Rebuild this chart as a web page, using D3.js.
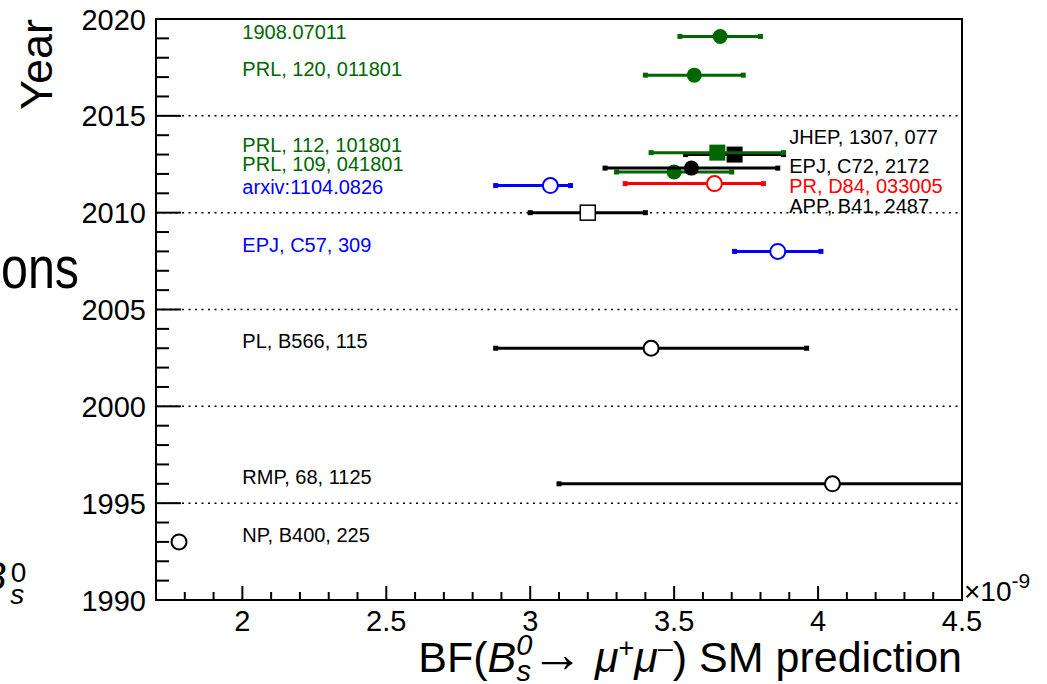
<!DOCTYPE html>
<html>
<head>
<meta charset="utf-8">
<script src="https://cdn.jsdelivr.net/npm/d3@7"></script>
<style>
  html, body { margin: 0; padding: 0; background: #fff; }
  svg { display: block; }
  text { font-family: "Liberation Sans", Arial, Helvetica, sans-serif; }
</style>
</head>
<body>
<svg id="chart" width="1047" height="684"></svg>
<script>
// ---------------- DATA ----------------
const references = ["1908.07011", "PRL, 120, 011801", "PRL, 112, 101801", "JHEP, 1307, 077",
  "EPJ, C72, 2172", "PRL, 109, 041801", "PR, D84, 033005", "arxiv:1104.0826",
  "APP, B41, 2487", "EPJ, C57, 309", "PL, B566, 115", "RMP, 68, 1125", "NP, B400, 225"];
const years    = [2019.1, 2017.1, 2013.1, 2013.0, 2012.3, 2012.1, 2011.5, 2011.4, 2010.0, 2008.0, 2003.0, 1996.0, 1993.0];
const values   = [3.66, 3.57, 3.65, 3.71, 3.56, 3.50, 3.64, 3.07, 3.20, 3.86, 3.42, 4.05, 1.78];
const errLow   = [0.14, 0.17, 0.23, 0.17, 0.30, 0.20, 0.31, 0.19, 0.20, 0.15, 0.54, 0.95, 0];
const errHigh  = [0.14, 0.17, 0.23, 0.17, 0.30, 0.20, 0.17, 0.07, 0.20, 0.15, 0.54, 0.95, 0];
// label anchors (in data coordinates: BF value, year of baseline)
const labelTexts = ["1908.07011", "PRL, 120, 011801", "PRL, 112, 101801", "PRL, 109, 041801",
  "arxiv:1104.0826", "EPJ, C57, 309", "PL, B566, 115", "RMP, 68, 1125", "NP, B400, 225",
  "JHEP, 1307, 077", "EPJ, C72, 2172", "PR, D84, 033005", "APP, B41, 2487"];
const labelValues = [2.0, 2.0, 2.0, 2.0, 2.0, 2.0, 2.0, 2.0, 2.0, 3.9, 3.9, 3.9, 3.9];
const labelYears  = [2018.97, 2017.06, 2013.13, 2012.15, 2010.96, 2007.97, 2003.01, 1995.99, 1992.99,
  2013.55, 2012.03, 2011.03, 2010.0];
const xTicks = [2, 2.5, 3, 3.5, 4, 4.5];
const yTicks = [1990, 1995, 2000, 2005, 2010, 2015, 2020];
const xDomain = [1.7, 4.5];
const yDomain = [1990, 2020];

// ---------------- STYLE ----------------
const GREEN = "#006600", BLUE = "#0000ff", RED = "#ff0000", BLACK = "#000000";
const pointColor = [GREEN, GREEN, GREEN, BLACK, BLACK, GREEN, RED, BLUE, BLACK, BLUE, BLACK, BLACK, BLACK];
const pointShape = ["circle", "circle", "square", "square", "circle", "circle", "circle", "circle", "square", "circle", "circle", "circle", "circle"];
const pointFilled = [true, true, true, true, true, true, false, false, false, false, false, false, false];
const labelColor = [GREEN, GREEN, GREEN, GREEN, BLUE, BLUE, BLACK, BLACK, BLACK, BLACK, BLACK, RED, BLACK];
// drawing order (black square under green square, green circle under black circle)
const drawOrder = [0, 1, 3, 2, 5, 4, 6, 7, 8, 9, 10, 11, 12];

const svg = d3.select("#chart");
const L = 156, R = 962, T = 19, B = 600;
const x = d3.scaleLinear().domain(xDomain).range([L, R]);
const y = d3.scaleLinear().domain(yDomain).range([B, T]);

svg.append("defs").append("clipPath").attr("id", "clip")
  .append("rect").attr("x", L).attr("y", T).attr("width", R - L).attr("height", B - T);

// gridlines (dotted) at major y ticks
svg.append("g").selectAll("line").data(yTicks.filter(d => d > 1990 && d < 2020)).join("line")
  .attr("x1", L).attr("x2", R).attr("y1", d => y(d)).attr("y2", d => y(d))
  .attr("stroke", "#000").attr("stroke-width", 1.5).attr("stroke-dasharray", "2,4.5");

// y axis ticks (inward) and labels
const gy = svg.append("g");
gy.selectAll("line").data(d3.range(1990, 2021, 1)).join("line")
  .attr("x1", L).attr("x2", d => L + (d % 5 === 0 ? 25 : 13))
  .attr("y1", d => y(d)).attr("y2", d => y(d)).attr("stroke", "#000").attr("stroke-width", 2);
gy.selectAll("text").data(yTicks).join("text")
  .attr("x", L - 10).attr("y", d => y(d) + 10.5).attr("text-anchor", "end")
  .attr("font-size", 29).text(d => d);

// x axis ticks (inward) and labels
const xMinor = d3.range(17, 46, 1).map(d => d / 10);
const gx = svg.append("g");
gx.selectAll("line").data(xMinor).join("line")
  .attr("x1", d => x(d)).attr("x2", d => x(d))
  .attr("y1", B).attr("y2", d => B - (Math.abs(d * 2 - Math.round(d * 2)) < 1e-6 ? 14 : 8))
  .attr("stroke", "#000").attr("stroke-width", 2);
gx.selectAll("text").data(xTicks).join("text")
  .attr("x", d => x(d)).attr("y", 631).attr("text-anchor", "middle")
  .attr("font-size", 29).text(d => d3.format("")(d));

// frame
svg.append("rect").attr("x", L).attr("y", T).attr("width", R - L).attr("height", B - T)
  .attr("fill", "none").attr("stroke", "#000").attr("stroke-width", 2);

// points with error bars
const plot = svg.append("g").attr("clip-path", "url(#clip)");
drawOrder.forEach(i => {
  const g = plot.append("g");
  const cy = y(years[i]);
  const c = pointColor[i];
  if (errLow[i] > 0 || errHigh[i] > 0) {
    const x1 = x(values[i] - errLow[i]), x2 = x(values[i] + errHigh[i]);
    g.append("line").attr("x1", x1).attr("x2", x2).attr("y1", cy).attr("y2", cy)
      .attr("stroke", c).attr("stroke-width", 3);
    [x1, x2].forEach(xx => g.append("rect").attr("x", xx - 2.5).attr("y", cy - 2.5)
      .attr("width", 5).attr("height", 5).attr("fill", c));
  }
  const cx = x(values[i]);
  if (pointShape[i] === "circle") {
    g.append("circle").attr("cx", cx).attr("cy", cy).attr("r", 7.5)
      .attr("fill", pointFilled[i] ? c : "#fff").attr("stroke", c).attr("stroke-width", pointFilled[i] ? 0 : 2);
  } else {
    const s = pointFilled[i] ? 16 : 15;
    g.append("rect").attr("x", cx - s / 2).attr("y", cy - s / 2).attr("width", s).attr("height", s)
      .attr("fill", pointFilled[i] ? c : "#fff").attr("stroke", c).attr("stroke-width", pointFilled[i] ? 0 : 1.5);
  }
});

// reference labels
svg.append("g").selectAll("text").data(labelTexts).join("text")
  .attr("x", (d, i) => x(labelValues[i])).attr("y", (d, i) => y(labelYears[i]))
  .attr("font-size", 20).attr("fill", (d, i) => labelColor[i]).text(d => d);

// x10^-9
const ex = svg.append("text").attr("x", 964).attr("y", 601).attr("font-size", 28);
ex.append("tspan").text("\u00d710");
ex.append("tspan").attr("font-size", 21).attr("dy", -13).text("-9");

// axis titles
svg.append("text").attr("transform", "translate(52,19) rotate(-90)")
  .attr("text-anchor", "end").attr("font-size", 45).text("Year");

const t = svg.append("text").attr("x", 962).attr("y", 672).attr("text-anchor", "end").attr("font-size", 43);
t.append("tspan").text("BF(");
t.append("tspan").attr("font-style", "italic").text("B");
t.append("tspan").attr("font-style", "italic").attr("font-size", 29).attr("dy", -17).text("0");
t.append("tspan").attr("font-style", "italic").attr("font-size", 29).attr("dx", -16).attr("dy", 26).text("s");
t.append("tspan").attr("font-size", 52).attr("dy", -9).text("\u2192");
t.append("tspan").text(" ");
t.append("tspan").attr("font-style", "italic").text("\u03bc");
t.append("tspan").attr("font-size", 27).attr("dy", -15).text("+");
t.append("tspan").attr("font-style", "italic").attr("dy", 15).text("\u03bc");
t.append("tspan").attr("font-size", 27).attr("dy", -15).text("\u2013");
t.append("tspan").attr("dy", 15).text(") SM prediction");

// slide remnants at the left edge
svg.append("text").attr("x", 1).attr("y", 288).attr("font-family", "'Open Sans', sans-serif")
  .attr("font-size", 60).attr("textLength", 78).attr("lengthAdjust", "spacingAndGlyphs").text("ons");
const bs = svg.append("text").attr("x", -20).attr("y", 590)
  .attr("font-family", "'DejaVu Serif', 'Liberation Serif', serif").attr("font-style", "italic").attr("font-size", 40);
bs.append("tspan").text("B");
bs.append("tspan").attr("font-style", "normal").attr("font-size", 28).attr("dy", -8).attr("dx", 4).text("0");
bs.append("tspan").attr("font-size", 28).attr("dx", -16).attr("dy", 22).text("s");
</script>
</body>
</html>
